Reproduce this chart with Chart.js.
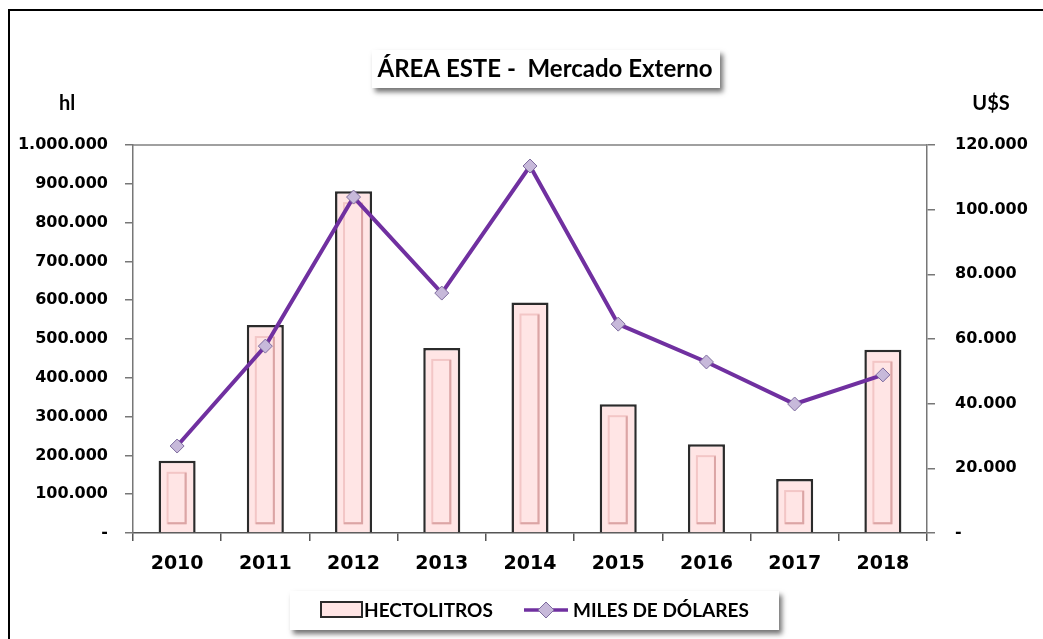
<!DOCTYPE html>
<html>
<head>
<meta charset="utf-8">
<script src="https://cdn.jsdelivr.net/npm/chart.js@4/dist/chart.umd.min.js"></script>
<style>
  body { margin: 0; background: #fff; }
  canvas { display: block; }
</style>
</head>
<body>
<canvas id="areaChart" width="1043" height="639"></canvas>
<script>
const years = ["2010", "2011", "2012", "2013", "2014", "2015", "2016", "2017", "2018"];
const hectolitros = [186000, 536000, 881000, 477000, 594000, 332000, 229000, 139000, 472000];
const milesDolares = [26900, 57800, 103900, 74200, 113500, 64600, 52900, 39900, 48900];
const leftTicks = [0, 100000, 200000, 300000, 400000, 500000, 600000, 700000, 800000, 900000, 1000000];
const rightTicks = [0, 20000, 40000, 60000, 80000, 100000, 120000];

const chartTitle = "ÁREA ESTE -  Mercado Externo";
const leftUnit = "hl";
const rightUnit = "U$S";

const BAR_FILL = "#ffe5e5";
const LINE_COLOR = "#7030a0";
const TEXT_FONT = "Lato, 'Open Sans', sans-serif";
const TICK_FONT = "'DejaVu Sans', sans-serif";

function fmt(v) {
  if (v === 0) return "-";
  return String(v).replace(/\B(?=(\d{3})+(?!\d))/g, ".");
}

function shadowBox(ctx, x, y, w, h) {
  ctx.save();
  ctx.shadowColor = "rgba(0,0,0,0.55)";
  ctx.shadowBlur = 5;
  ctx.shadowOffsetX = 3;
  ctx.shadowOffsetY = 4;
  ctx.fillStyle = "#fff";
  ctx.fillRect(x, y, w, h);
  ctx.restore();
}

// frame, plot top border, bar bevel, title and legend
const decor = {
  id: "decor",
  afterDatasetDraw(chart, args) {
    if (args.index !== 1) return;
    const { ctx } = chart;
    // excel-ish inner bevel on each bar
    args.meta.data.forEach((bar) => {
      const left = bar.x - bar.width / 2;
      const w = bar.width;
      const top = bar.y + 12;
      const bottom = bar.base - 9;
      if (bottom - top < 6) return;
      ctx.save();
      ctx.lineWidth = 2;
      ctx.strokeStyle = "#f3c6c6";
      ctx.strokeRect(left + 9, top, w - 19, bottom - top);
      ctx.strokeStyle = "#dba5a5";
      ctx.beginPath();
      ctx.moveTo(left + w - 10, top);
      ctx.lineTo(left + w - 10, bottom);
      ctx.lineTo(left + 9, bottom);
      ctx.stroke();
      ctx.restore();
    });
  },
  afterDraw(chart) {
    const { ctx, chartArea } = chart;
    ctx.save();

    // outer frame (left + top only)
    ctx.strokeStyle = "#000";
    ctx.lineWidth = 2;
    ctx.beginPath();
    ctx.moveTo(9, chart.height);
    ctx.lineTo(9, 10);
    ctx.lineTo(chart.width, 10);
    ctx.stroke();

    // top border of plot area
    ctx.strokeStyle = "#808080";
    ctx.lineWidth = 1.5;
    ctx.beginPath();
    ctx.moveTo(chartArea.left, chartArea.top);
    ctx.lineTo(chartArea.right, chartArea.top);
    ctx.stroke();

    // title
    shadowBox(ctx, 372, 50, 348, 38);
    ctx.fillStyle = "#000";
    ctx.font = "bold 24px " + TEXT_FONT;
    ctx.textAlign = "center";
    ctx.textBaseline = "middle";
    ctx.fillText(chartTitle, 545, 69);

    // unit labels
    ctx.font = "bold 20px " + TEXT_FONT;
    ctx.fillText(leftUnit, 67, 104);
    ctx.fillText(rightUnit, 991, 104);

    // legend
    shadowBox(ctx, 290, 591, 489, 39);
    const ds = chart.data.datasets;
    const bar = ds[1], line = ds[0];
    ctx.fillStyle = bar.backgroundColor;
    ctx.fillRect(321, 602, 41, 15);
    ctx.strokeStyle = bar.borderColor;
    ctx.lineWidth = 2;
    ctx.strokeRect(321, 602, 41, 15);
    ctx.font = "bold 19px " + TEXT_FONT;
    ctx.fillStyle = "#000";
    ctx.textAlign = "left";
    ctx.fillText(bar.label, 364, 611);

    ctx.strokeStyle = line.borderColor;
    ctx.lineWidth = 3.5;
    ctx.beginPath();
    ctx.moveTo(524, 610);
    ctx.lineTo(568, 610);
    ctx.stroke();
    ctx.beginPath();
    ctx.moveTo(546, 602);
    ctx.lineTo(554, 610);
    ctx.lineTo(546, 618);
    ctx.lineTo(538, 610);
    ctx.closePath();
    ctx.fillStyle = line.pointBackgroundColor;
    ctx.fill();
    ctx.strokeStyle = line.pointBorderColor;
    ctx.lineWidth = 1;
    ctx.stroke();
    ctx.fillStyle = "#000";
    ctx.fillText(line.label, 573, 611);

    ctx.restore();
  },
};

const ctx = document.getElementById("areaChart").getContext("2d");

new Chart(ctx, {
  data: {
    labels: years,
    datasets: [
      {
        type: "line",
        label: "MILES DE DÓLARES",
        data: milesDolares,
        yAxisID: "y1",
        order: 0,
        borderColor: LINE_COLOR,
        borderWidth: 4,
        tension: 0,
        pointStyle: "rectRot",
        pointRadius: 7,
        pointBackgroundColor: "#c7b9da",
        pointBorderColor: "#7d6b9e",
        pointBorderWidth: 1,
      },
      {
        type: "bar",
        label: "HECTOLITROS",
        data: hectolitros,
        yAxisID: "y",
        order: 1,
        backgroundColor: BAR_FILL,
        borderColor: "#2b2b2b",
        borderWidth: 2.5,
        categoryPercentage: 1,
        barPercentage: 0.42,
      },
    ],
  },
  options: {
    responsive: false,
    animation: false,
    layout: {
      padding: { top: 145, left: 0, right: 0, bottom: 0 },
    },
    plugins: {
      legend: { display: false },
      title: { display: false },
      tooltip: { enabled: false },
    },
    scales: {
      x: {
        offset: true,
        grid: {
          offset: true,
          drawOnChartArea: false,
          tickLength: 8,
          color: "#555",
          lineWidth: 1.5,
        },
        border: { color: "#555", width: 1.5 },
        ticks: {
          color: "#000",
          padding: 12,
          font: { family: TICK_FONT, weight: "bold", size: 19 },
        },
        afterFit: (s) => { s.height = 106; },
      },
      y: {
        position: "left",
        min: 0,
        max: 1000000,
        afterBuildTicks: (s) => { s.ticks = leftTicks.map((v) => ({ value: v })); },
        grid: {
          drawOnChartArea: false,
          tickLength: 8,
          color: "#777",
          lineWidth: 1.5,
        },
        border: { color: "#777", width: 1.5 },
        ticks: {
          color: "#000",
          padding: 17,
          font: { family: TICK_FONT, weight: "bold", size: 16 },
          callback: (v) => fmt(v),
        },
        afterFit: (s) => { s.width = 133; },
      },
      y1: {
        position: "right",
        min: 0,
        max: 120000,
        afterBuildTicks: (s) => { s.ticks = rightTicks.map((v) => ({ value: v })); },
        grid: {
          drawOnChartArea: false,
          tickLength: 8,
          color: "#777",
          lineWidth: 1.5,
        },
        border: { color: "#777", width: 1.5 },
        ticks: {
          color: "#000",
          padding: 20,
          font: { family: TICK_FONT, weight: "bold", size: 16 },
          callback: (v) => fmt(v),
        },
        afterFit: (s) => { s.width = 116; },
      },
    },
  },
  plugins: [decor],
});
</script>
</body>
</html>
